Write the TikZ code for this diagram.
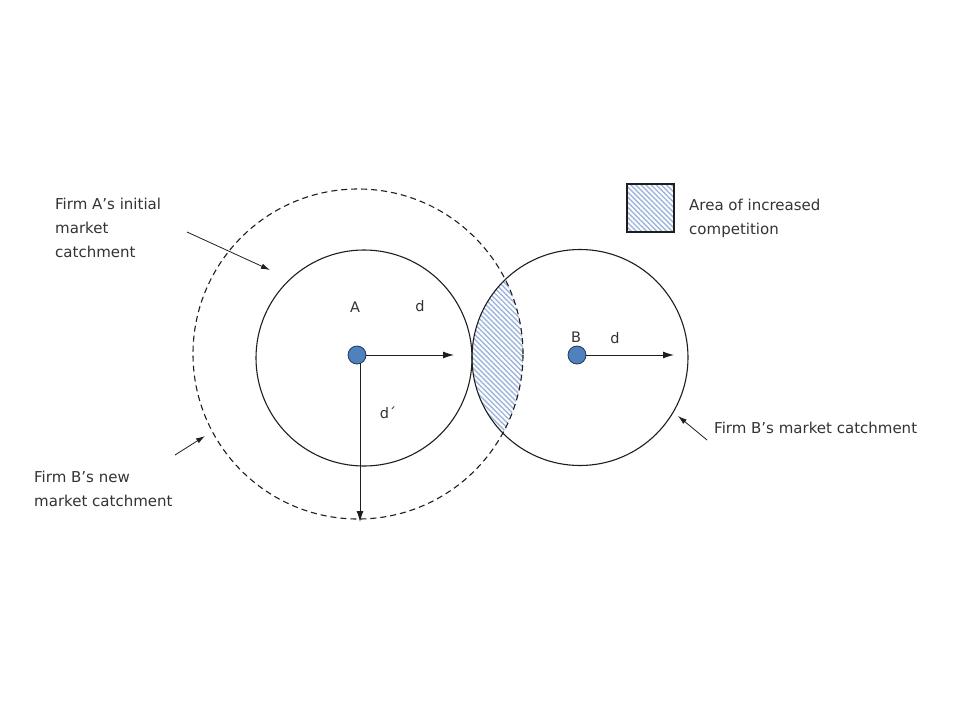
\documentclass[tikz,border=0pt]{standalone}
\usepackage{fontspec}
\setmainfont{DejaVu Sans}
\usetikzlibrary{arrows.meta,patterns.meta}
\definecolor{txt}{HTML}{333333}
\definecolor{ln}{HTML}{1E1E1E}
\definecolor{dotfill}{HTML}{4F81BD}
\definecolor{dotdraw}{HTML}{1F3A5F}
\definecolor{hatch}{HTML}{9DB5DE}
\tikzset{
  lbl/.style={font=\fontsize{15}{24}\selectfont, text=txt, inner sep=0pt, align=left, anchor=west},
  small/.style={font=\fontsize{14.5}{18}\selectfont, text=txt, inner sep=0pt},
  ring/.style={draw=ln, line width=1.1pt, circle, inner sep=0pt},
  dashring/.style={ring, dash pattern=on 6pt off 4pt},
  firm/.style={circle, fill=dotfill, draw=dotdraw, line width=0.8pt, minimum size=18pt, inner sep=0pt},
  arr/.style={draw=ln, line width=1pt, -{Latex[length=11pt,width=7pt]}},
  pointer/.style={draw=ln, line width=0.8pt, -{Latex[length=9pt,width=5.5pt]}},
  hatched/.style={pattern={Lines[angle=-45,distance=3.6pt,line width=1.4pt]}, pattern color=hatch},
}
\begin{document}
\begin{tikzpicture}[x=1pt,y=-1pt]
\useasboundingbox[fill=white] (0,0) rectangle (960,720);
% hatched lens (intersection of B's circle and the dashed circle)
\begin{scope}
  \clip (580,357.5) circle (108);
  \fill[white] (358,354) circle (165);
  \path[hatched] (358,354) circle (165);
\end{scope}
% circles
\node[dashring, minimum size=330pt] (dashA) at (358,354) {};
\node[ring, minimum size=216pt] (circA) at (364,358) {};
\node[ring, minimum size=216pt] (circB) at (580,357.5) {};
% firms
\node[firm] (A) at (357,355) {};
\node[firm] (B) at (577,355) {};
\coordinate (endAd) at (454,355);
\coordinate (Asouth) at (360,363);
\coordinate (endAdp) at (360,522);
\coordinate (endBd) at (674,355);
\draw[arr] (A.east) -- (endAd);
\draw[arr] (Asouth) -- (endAdp);
\draw[arr] (B.east) -- (endBd);
% inner labels
\node[small] (labA) at (355,307) {A};
\node[small] (labd) at (420,306) {d};
\node[small] (labdp) at (388,413) {d´};
\node[small] (labB) at (576,337) {B};
\node[small] (labdB) at (615,338) {d};
% legend
\node[draw=ln, line width=1.2pt, hatched, minimum width=47pt, minimum height=48pt, inner sep=0pt] (legbox) at (650.5,208) {};
\node[lbl] (legtxt) at (689,218) {Area of increased\\competition};
% outer labels
\node[lbl] (txtA) at (55,227.5) {Firm A’s initial\\market\\catchment};
\coordinate (pA1) at (187,232);
\coordinate (pA2) at (270,270);
\draw[pointer] (pA1) -- (pA2);
\node[lbl] (txtBnew) at (34,488.5) {Firm B’s new\\market catchment};
\coordinate (pN1) at (175,455);
\coordinate (pN2) at (205,436);
\draw[pointer] (pN1) -- (pN2);
\node[lbl] (txtB) at (714,428) {Firm B’s market catchment};
\coordinate (pB1) at (707,440);
\coordinate (pB2) at (678,416);
\draw[pointer] (pB1) -- (pB2);
\end{tikzpicture}
\end{document}
